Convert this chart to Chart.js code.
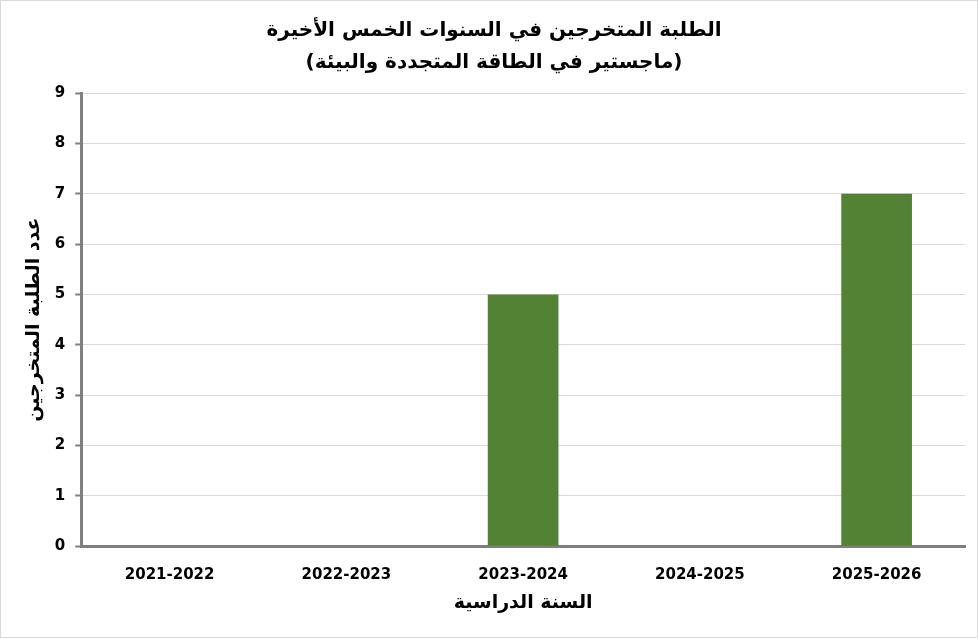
<!DOCTYPE html>
<html>
<head>
<meta charset="utf-8">
<script src="https://cdn.jsdelivr.net/npm/chart.js@4.4.1/dist/chart.umd.min.js"></script>
<style>
  html, body { margin: 0; padding: 0; background: #ffffff; }
  #wrap { position: relative; width: 978px; height: 638px; box-sizing: border-box; border: 1px solid #d9d9d9; background: #fff; }
  canvas { display: block; }
</style>
</head>
<body>
<div id="wrap"><canvas id="c"></canvas></div>
<script>
const categories = ["2021-2022", "2022-2023", "2023-2024", "2024-2025", "2025-2026"];
const graduates = [0, 0, 5, 0, 7];
const titleLines = ["الطلبة المتخرجين في السنوات الخمس الأخيرة", "(ماجستير في الطاقة المتجددة والبيئة)"];
const yAxisTitle = "عدد الطلبة المتخرجين";
const xAxisTitle = "السنة الدراسية";
const yMin = 0, yMax = 9, yStep = 1;

const FONT = "'DejaVu Sans', 'Liberation Sans', sans-serif";

new Chart(document.getElementById('c'), {
  type: 'bar',
  data: {
    labels: categories,
    datasets: [{
      data: graduates,
      backgroundColor: '#548235',
      borderWidth: 0,
      barPercentage: 0.4,
      categoryPercentage: 1.0
    }]
  },
  options: {
    responsive: true,
    maintainAspectRatio: false,
    devicePixelRatio: 1,
    animation: false,
    layout: { padding: { left: 22, right: 12, top: 4, bottom: 23 } },
    plugins: {
      legend: { display: false },
      tooltip: { enabled: false },
      title: {
        display: true,
        text: titleLines,
        color: '#000',
        font: { family: FONT, size: 20, weight: 'bold', lineHeight: 1.6 },
        padding: { top: 10, bottom: 14 }
      }
    },
    scales: {
      x: {
        grid: { display: false, drawTicks: false },
        border: { display: true, color: '#7f7f7f', width: 3 },
        ticks: { color: '#000', font: { family: FONT, size: 15, weight: 'bold' }, padding: 20 },
        title: {
          display: true,
          text: xAxisTitle,
          color: '#000',
          font: { family: FONT, size: 19, weight: 'bold' },
          padding: { top: -13, bottom: 0 }
        }
      },
      y: {
        min: yMin,
        max: yMax,
        grid: { color: '#d9d9d9', lineWidth: 1, drawTicks: true, tickLength: 6, tickColor: '#7f7f7f', tickWidth: 2 },
        border: { display: true, color: '#7f7f7f', width: 3 },
        ticks: { stepSize: yStep, color: '#000', font: { family: FONT, size: 15, weight: 'bold' }, padding: 10 },
        title: {
          display: true,
          text: yAxisTitle,
          color: '#000',
          font: { family: FONT, size: 19, weight: 'bold' },
          padding: { top: 0, bottom: -1 }
        }
      }
    }
  }
});
</script>
</body>
</html>
